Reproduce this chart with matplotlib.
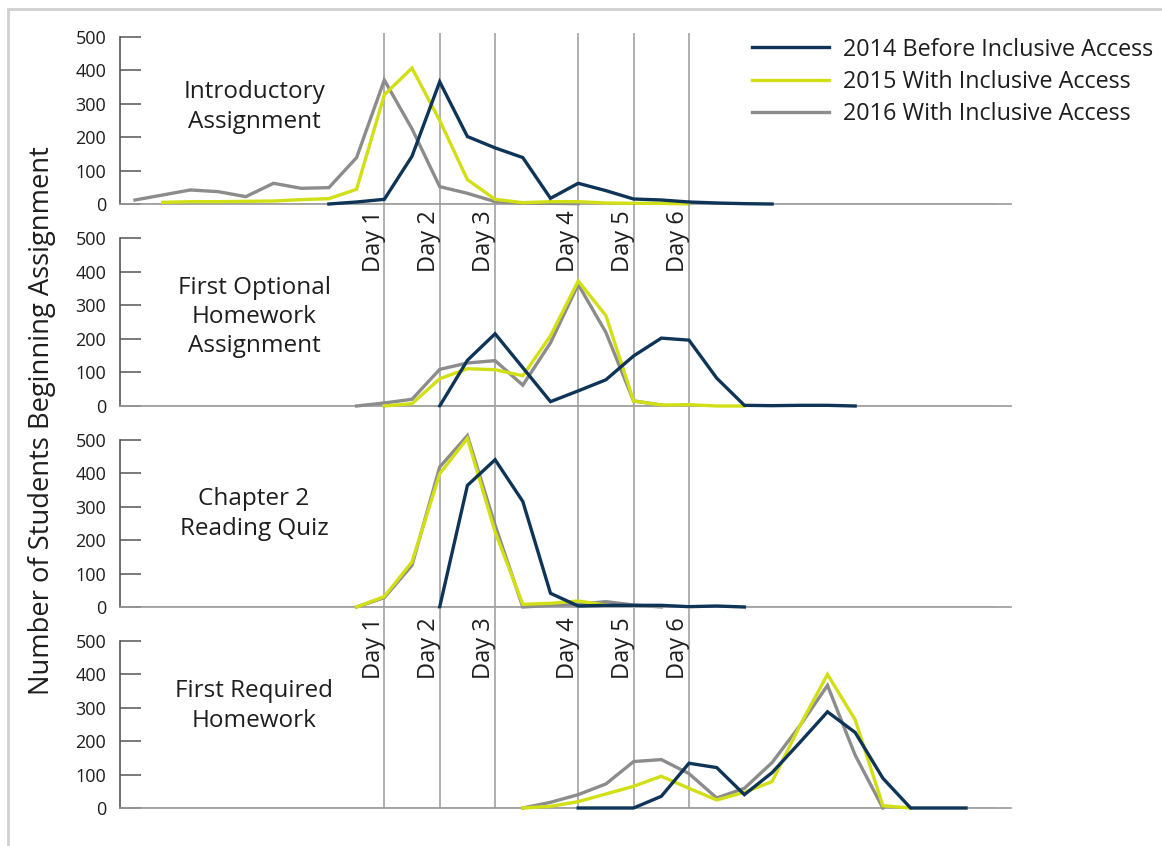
import matplotlib
matplotlib.use("Agg")
import matplotlib.pyplot as plt
from matplotlib.lines import Line2D
from matplotlib.patches import Rectangle
import numpy as np

plt.rcParams["font.family"] = ["Open Sans", "DejaVu Sans"]

# half-day slots along the x axis (0..31)
n_slots = 32
day_slots = [9, 11, 13, 16, 18, 20]
day_labels = ["Day 1", "Day 2", "Day 3", "Day 4", "Day 5", "Day 6"]

panel_titles = [
    "Introductory\nAssignment",
    "First Optional\nHomework\nAssignment",
    "Chapter 2\nReading Quiz",
    "First Required\nHomework",
]

series_names = ["2014 Before Inclusive Access", "2015 With Inclusive Access",
                "2016 With Inclusive Access"]

# (first slot, values) for each series in each panel
intro_2014 = (7, [0, 6, 14, 143, 366, 202, 168, 139, 17, 62, 40, 15, 12, 6, 3, 1, 0])
intro_2015 = (1, [5, 7, 7, 8, 9, 13, 16, 44, 327, 407, 250, 73, 14, 4, 7, 7, 3, 2, 2, 0])
intro_2016 = (0, [12, 27, 42, 37, 22, 62, 47, 49, 139, 371, 225, 52, 32, 7, 3, 2, 1])

optional_2014 = (11, [0, 136, 215, 114, 13, 45, 78, 149, 202, 196, 83, 2, 1, 2, 2, 0])
optional_2015 = (9, [0, 7, 81, 111, 108, 90, 209, 372, 269, 15, 3, 4, 0, 0])
optional_2016 = (8, [0, 9, 20, 109, 128, 135, 62, 188, 362, 219, 15, 3])

quiz_2014 = (11, [0, 364, 441, 316, 41, 3, 5, 5, 5, 1, 3, 0])
quiz_2015 = (8, [0, 31, 135, 399, 505, 225, 8, 11, 18, 6])
quiz_2016 = (8, [0, 28, 125, 419, 513, 245, 0, 5, 8, 16, 6, 0])

required_2014 = (16, [0, 0, 0, 35, 134, 121, 40, 106, 196, 288, 226, 89, 0, 0, 0])
required_2015 = (14, [0, 5, 19, 42, 65, 95, 59, 24, 47, 79, 246, 400, 264, 7, 0])
required_2016 = (14, [0, 17, 40, 72, 139, 145, 103, 30, 59, 136, 246, 367, 158, 0])

panels = [
    (intro_2014, intro_2015, intro_2016),
    (optional_2014, optional_2015, optional_2016),
    (quiz_2014, quiz_2015, quiz_2016),
    (required_2014, required_2015, required_2016),
]

COLORS = ["#0E3558", "#D2DF14", "#8C8C8C"]
TEXT = "#1E1E1E"
W, H = 1162, 846

fig = plt.figure(figsize=(W / 100, H / 100), dpi=100)

# pixel rows of the 0 and 500 gridlines of each panel
zero_px = [204, 406, 607, 808]
top_px = [37, 238, 440, 641]
left_px, right_px = 120, 1011
slot0_px, slot_w = 135, 27.7
xlim = ((left_px - slot0_px) / slot_w, (right_px - slot0_px) / slot_w)

axes = []
for k in range(4):
    ax = fig.add_axes([left_px / W, 1 - zero_px[k] / H,
                       (right_px - left_px) / W, (zero_px[k] - top_px[k]) / H])
    ax.set_xlim(*xlim)
    ax.set_ylim(0, 500)
    ax.patch.set_visible(False)
    for s in ["top", "right"]:
        ax.spines[s].set_visible(False)
    ax.spines["left"].set_color("#555555")
    ax.spines["left"].set_linewidth(1.2)
    ax.spines["bottom"].set_color("#999999")
    ax.spines["bottom"].set_linewidth(1.2)
    ax.set_xticks([])
    ax.set_yticks([0, 100, 200, 300, 400, 500])
    ax.tick_params(axis="y", direction="in", length=15, width=1.1, color="#555555",
                   pad=10, labelsize=13, labelcolor=TEXT)

    # day markers run up to the panel above
    top = 512 if k == 0 else 600
    ax.vlines(day_slots, 0, top, color="#9A9A9A", lw=1.1, clip_on=False, zorder=1)
    ax.hlines(0, 0, n_slots - 1, color="#333333", lw=1.0, zorder=2)

    for (start, vals), c in reversed(list(zip(panels[k], COLORS))):
        x = np.arange(start, start + len(vals))
        ax.plot(x, vals, color=c, lw=2.4, solid_joinstyle="miter", zorder=3, clip_on=False)

    ax.text(4.3, [290, 265, 278, 305][k], panel_titles[k], ha="center", va="center",
            fontsize=17.5, color=TEXT, linespacing=1.3)
    axes.append(ax)

# day labels sit under panels 1 and 3
for k, yv in [(1, 398), (3, 385)]:
    for d, lab in zip(day_slots, day_labels):
        axes[k].text(d + 0.05, yv, lab, rotation=90, ha="right", va="bottom",
                     fontsize=17, color=TEXT)

handles = [Line2D([], [], color=c, lw=2.4) for c in COLORS]
fig.legend(handles, series_names, loc="upper left",
           bbox_to_anchor=(740 / W, 1 - 26 / H), frameon=False, fontsize=16.8,
           handlelength=3.3, handletextpad=0.6, labelspacing=0.36, borderpad=0,
           labelcolor=TEXT)

fig.text(42 / W, 1 - 421 / H, "Number of Students Beginning Assignment", rotation=90,
         ha="center", va="center", fontsize=19.7, color=TEXT)

fig.patches.append(Rectangle((8 / W, -0.1), 2, 1.1 - 9 / H, transform=fig.transFigure,
                             fill=False, edgecolor="#D0D0D0", lw=2))

fig.savefig("out.png", dpi=100)
plt.close(fig)
